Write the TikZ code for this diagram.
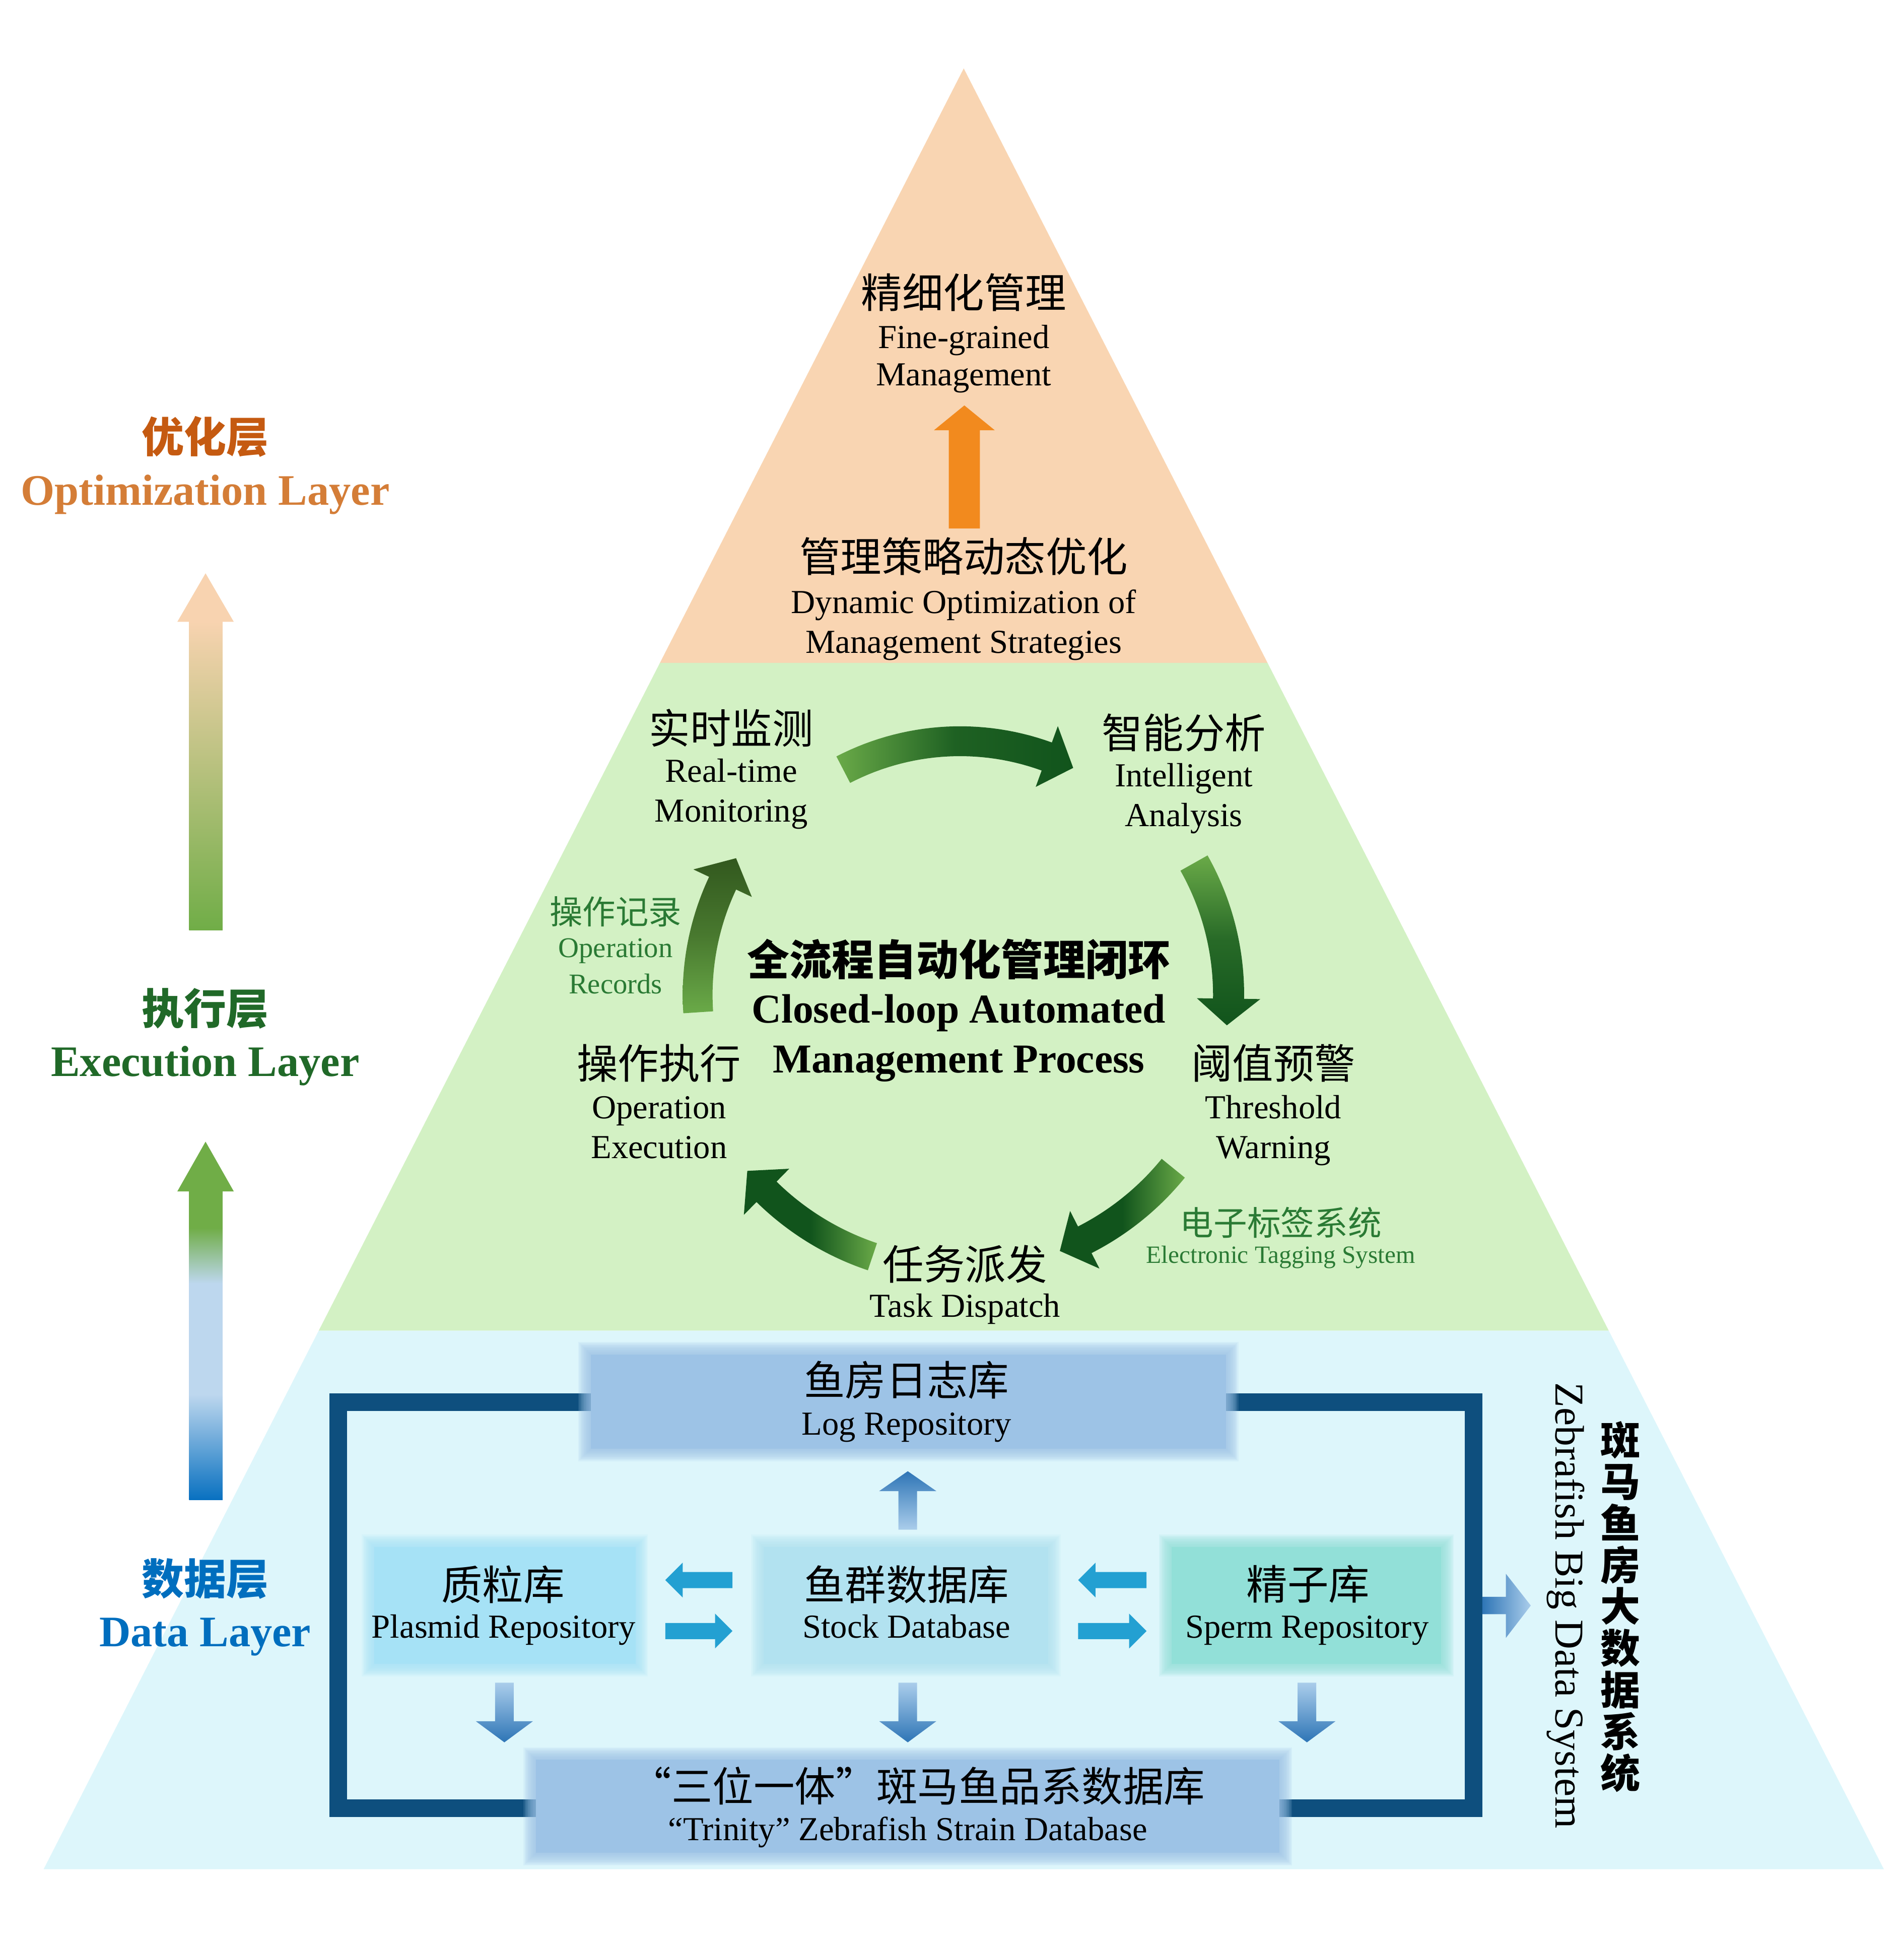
\documentclass[tikz,border=0pt]{standalone}
\usepackage{fontspec}
\setmainfont{Liberation Serif}
\newfontfamily\cjk{Noto Sans CJK SC}
\usetikzlibrary{calc}
\definecolor{orgbg}{RGB}{249,213,178}
\definecolor{grnbg}{RGB}{211,241,196}
\definecolor{blubg}{RGB}{221,246,251}
\definecolor{peach}{RGB}{248,211,176}
\definecolor{lgreen}{RGB}{112,173,71}
\definecolor{lblue}{RGB}{189,215,238}
\definecolor{dblue}{RGB}{8,112,192}
\definecolor{orgarrow}{RGB}{242,138,30}
\definecolor{cgl}{RGB}{106,170,72}
\definecolor{cgd}{RGB}{17,84,28}
\definecolor{cgo}{RGB}{50,88,30}
\definecolor{framecol}{RGB}{14,79,126}
\definecolor{boxblue}{RGB}{157,195,230}
\definecolor{boxcyan}{RGB}{166,226,246}
\definecolor{boxstock}{RGB}{178,226,240}
\definecolor{boxmint}{RGB}{146,224,216}
\definecolor{harrowc}{RGB}{35,160,210}
\definecolor{varrowd}{RGB}{46,117,182}
\definecolor{varrowl}{RGB}{170,205,235}
\definecolor{txtorg}{RGB}{197,90,17}
\definecolor{txtorg2}{RGB}{212,125,55}
\definecolor{txtgrn}{RGB}{32,105,40}
\definecolor{txtblu}{RGB}{0,110,190}
\definecolor{lblgrn}{RGB}{42,122,52}
\pgfdeclareverticalshading{gbshade}{100bp}{color(0bp)=(dblue); color(25bp)=(dblue); color(42bp)=(lblue); color(60bp)=(lblue); color(69bp)=(lgreen); color(100bp)=(lgreen)}
% curved arrow: a0, head-base angle, tip angle, R, half shaft, half head, shade options
\newcommand\carrow[7]{%
  \shade[#7] plot[domain=#1:#2,samples=30] ({772+(#4+#5)*cos(\x)},{800-(#4+#5)*sin(\x)})
    -- ({772+(#4+#6)*cos(#2)},{800-(#4+#6)*sin(#2)})
    -- ({772+#4*cos(#3)},{800-#4*sin(#3)})
    -- ({772+(#4-#6)*cos(#2)},{800-(#4-#6)*sin(#2)})
    -- plot[domain=#2:#1,samples=30] ({772+(#4-#5)*cos(\x)},{800-(#4-#5)*sin(\x)}) -- cycle;}
% soft-edged box: name, x1, y1, x2, y2, colour
\newcommand\softbox[6]{%
  \foreach \i in {0,1,...,9} {\fill[#6,opacity=0.14] (#2+4-\i,#3+4-\i) rectangle (#4-4+\i,#5-4+\i);}
  \node[fill=#6,inner sep=0pt,minimum width={(#4-#2-10)*1pt},minimum height={(#5-#3-10)*1pt}] (#1) at ({(#2+#4)/2},{(#3+#5)/2}) {};}
% horizontal block arrow: tip x, head base x, tail x, y
\newcommand\harr[4]{%
  \fill[harrowc] (#1,#4) -- (#2,#4-14) -- (#2,#4-6.5) -- (#3,#4-6.5) -- (#3,#4+6.5) -- (#2,#4+6.5) -- (#2,#4+14) -- cycle;}
% vertical block arrow: x, tip y, head base y, tail y, shade options
\newcommand\varr[5]{%
  \shade[#5] (#1,#2) -- (#1+23,#3) -- (#1+7.5,#3) -- (#1+7.5,#4) -- (#1-7.5,#4) -- (#1-7.5,#3) -- (#1-23,#3) -- cycle;}
\tikzset{
  zh/.style={font=\cjk\fontsize{33}{36}\selectfont, inner sep=0pt},
  en/.style={font=\fontsize{27}{30}\selectfont, inner sep=0pt, anchor=base},
  zhb/.style={font=\cjk\bfseries\fontsize{34}{36}\selectfont, inner sep=0pt},
  enb/.style={font=\bfseries\fontsize{35}{38}\selectfont, inner sep=0pt, anchor=base},
}
\begin{document}
\begin{tikzpicture}[x=1pt,y=-1pt]
\useasboundingbox (0,0) rectangle (1531,1568);
\fill[white] (0,0) rectangle (1531,1568);
% pyramid layers
\fill[orgbg] (775,55) -- (1019.3,533) -- (530.7,533) -- cycle;
\fill[grnbg] (530.7,533) -- (1019.3,533) -- (1293.7,1070) -- (256.3,1070) -- cycle;
\fill[blubg] (256.3,1070) -- (1293.7,1070) -- (1514.9,1503) -- (35.1,1503) -- cycle;

% left layer arrows
\fill[peach] (142.6,500) -- (165.3,461) -- (188,500) -- cycle;
\shade[top color=peach, bottom color=lgreen] (152,499.5) rectangle (179,748);
\fill[lgreen] (142.6,958) -- (165.3,918) -- (188,958) -- cycle;
\shade[shading=gbshade] (152,957.5) rectangle (179,1206);

% left layer labels
\node[zhb, text=txtorg] (l1) at (165,351) {优化层};
\node[enb, text=txtorg2] (l1a) at (165,406) {Optimization Layer};
\node[zhb, text=txtgrn] (l2) at (165,811) {执行层};
\node[enb, text=txtgrn] (l2a) at (165,865.5) {Execution Layer};
\node[zhb, text=txtblu] (l3) at (165,1269.5) {数据层};
\node[enb, text=txtblu] (l3a) at (165,1324) {Data Layer};

% optimization layer
\node[zh] (fg) at (775,235) {精细化管理};
\node[en] (fga) at (775,280) {Fine-grained};
\node[en] (fgb) at (775,310) {Management};
\fill[orgarrow] (763,425) -- (763,346) -- (751,346) -- (775.5,326) -- (800,346) -- (788,346) -- (788,425) -- cycle;
\node[zh] (dy) at (775,447.5) {管理策略动态优化};
\node[en] (dya) at (775,493) {Dynamic Optimization of};
\node[en] (dyb) at (775,525) {Management Strategies};

% execution layer: loop arrows
\carrow{117.4}{70}{63.5}{204}{12}{26}{left color=cgl, right color=cgd, middle color=cgd!85!cgl}
\carrow{29.4}{-0.8}{-6.5}{216}{12.5}{25.5}{top color=cgl, bottom color=cgd, middle color=cgd!75!cgl}
\carrow{-39.1}{-63}{-68.7}{221}{12}{26}{right color=cgl, left color=cgd, middle color=cgd}
\carrow{-108.5}{-134.5}{-140.4}{222}{11.5}{26}{right color=cgl, left color=cgd, middle color=cgd}
\carrow{183.8}{154.8}{148.6}{211}{12}{26}{bottom color=cgl, top color=cgo, middle color=cgo!60!cgl}

\node[zh] (rt) at (588,585.5) {实时监测};
\node[en] (rta) at (588,629) {Real-time};
\node[en] (rtb) at (588,661) {Monitoring};
\node[zh] (ia) at (952,589) {智能分析};
\node[en] (iaa) at (952,632.6) {Intelligent};
\node[en] (iab) at (952,664.5) {Analysis};
\node[zh] (tw) at (1024,855) {阈值预警};
\node[en] (twa) at (1024,899.6) {Threshold};
\node[en] (twb) at (1024,931.5) {Warning};
\node[zh] (oe) at (530,855) {操作执行};
\node[en] (oea) at (530,899.6) {Operation};
\node[en] (oeb) at (530,931.5) {Execution};
\node[zh] (td) at (776,1016.5) {任务派发};
\node[en] (tda) at (776,1059) {Task Dispatch};
\node[zhb] (ct) at (771,771.5) {全流程自动化管理闭环};
\node[en, font=\bfseries\fontsize{33}{36}\selectfont] (cta) at (771,822.6) {Closed-loop Automated};
\node[en, font=\bfseries\fontsize{33}{36}\selectfont] (ctb) at (771,862.7) {Management Process};
\node[zh, font=\cjk\fontsize{26.5}{30}\selectfont, text=lblgrn] (orz) at (495,733) {操作记录};
\node[en, font=\fontsize{23}{26}\selectfont, text=lblgrn] (ora) at (495,770) {Operation};
\node[en, font=\fontsize{23}{26}\selectfont, text=lblgrn] (orb) at (495,799) {Records};
\node[zh, font=\cjk\fontsize{27}{30}\selectfont, text=lblgrn] (etz) at (1030,983) {电子标签系统};
\node[en, font=\fontsize{20}{24}\selectfont, text=lblgrn] (ete) at (1030,1015.6) {Electronic Tagging System};

% data layer
\draw[framecol, line width=14pt] (272,1127.5) rectangle (1185,1454);
\softbox{logbox}{470}{1084}{991}{1170}{boxblue}
\softbox{plbox}{296}{1239}{516}{1343}{boxcyan}
\softbox{stbox}{609}{1239}{848}{1343}{boxstock}
\softbox{spbox}{937}{1239}{1164}{1343}{boxmint}
\softbox{trbox}{426}{1410}{1034}{1495}{boxblue}

\harr{535}{549}{589}{1270.5}
\harr{589}{575}{535}{1311.5}
\harr{867}{881}{922}{1270.5}
\harr{922}{908}{867}{1311.5}
\varr{730}{1183}{1199}{1230}{top color=varrowd, bottom color=varrowl}
\varr{405.6}{1401}{1384}{1353}{top color=varrowl, bottom color=varrowd}
\varr{730}{1401}{1384}{1353}{top color=varrowl, bottom color=varrowd}
\varr{1051}{1401}{1384}{1353}{top color=varrowl, bottom color=varrowd}
\shade[left color=varrowd, right color=varrowl] (1192,1284) -- (1211,1284) -- (1211,1265.5) -- (1231,1291) -- (1211,1317) -- (1211,1298) -- (1192,1298) -- cycle;

\node[zh] (logz) at (729,1109.6) {鱼房日志库};
\node[en] (loge) at (729,1154) {Log Repository};
\node[zh] (plz) at (404.5,1274) {质粒库};
\node[en] (ple) at (405,1317) {Plasmid Repository};
\node[zh] (stz) at (729,1274) {鱼群数据库};
\node[en] (ste) at (729,1317) {Stock Database};
\node[zh] (spz) at (1052,1274) {精子库};
\node[en] (spe) at (1051,1317) {Sperm Repository};
\node[zh] (trz) at (738,1436) {“三位一体”斑马鱼品系数据库};
\node[en] (tre) at (730,1480) {“Trinity” Zebrafish Strain Database};

\node[en, font=\fontsize{33}{36}\selectfont, rotate=-90] (zbe) at (1251,1291) {Zebrafish Big Data System};
\node[font=\cjk\bfseries\fontsize{32}{33.5}\selectfont, align=center, inner sep=0pt] (zbz) at (1303,1292) {斑\\马\\鱼\\房\\大\\数\\据\\系\\统};
\end{tikzpicture}
\end{document}
